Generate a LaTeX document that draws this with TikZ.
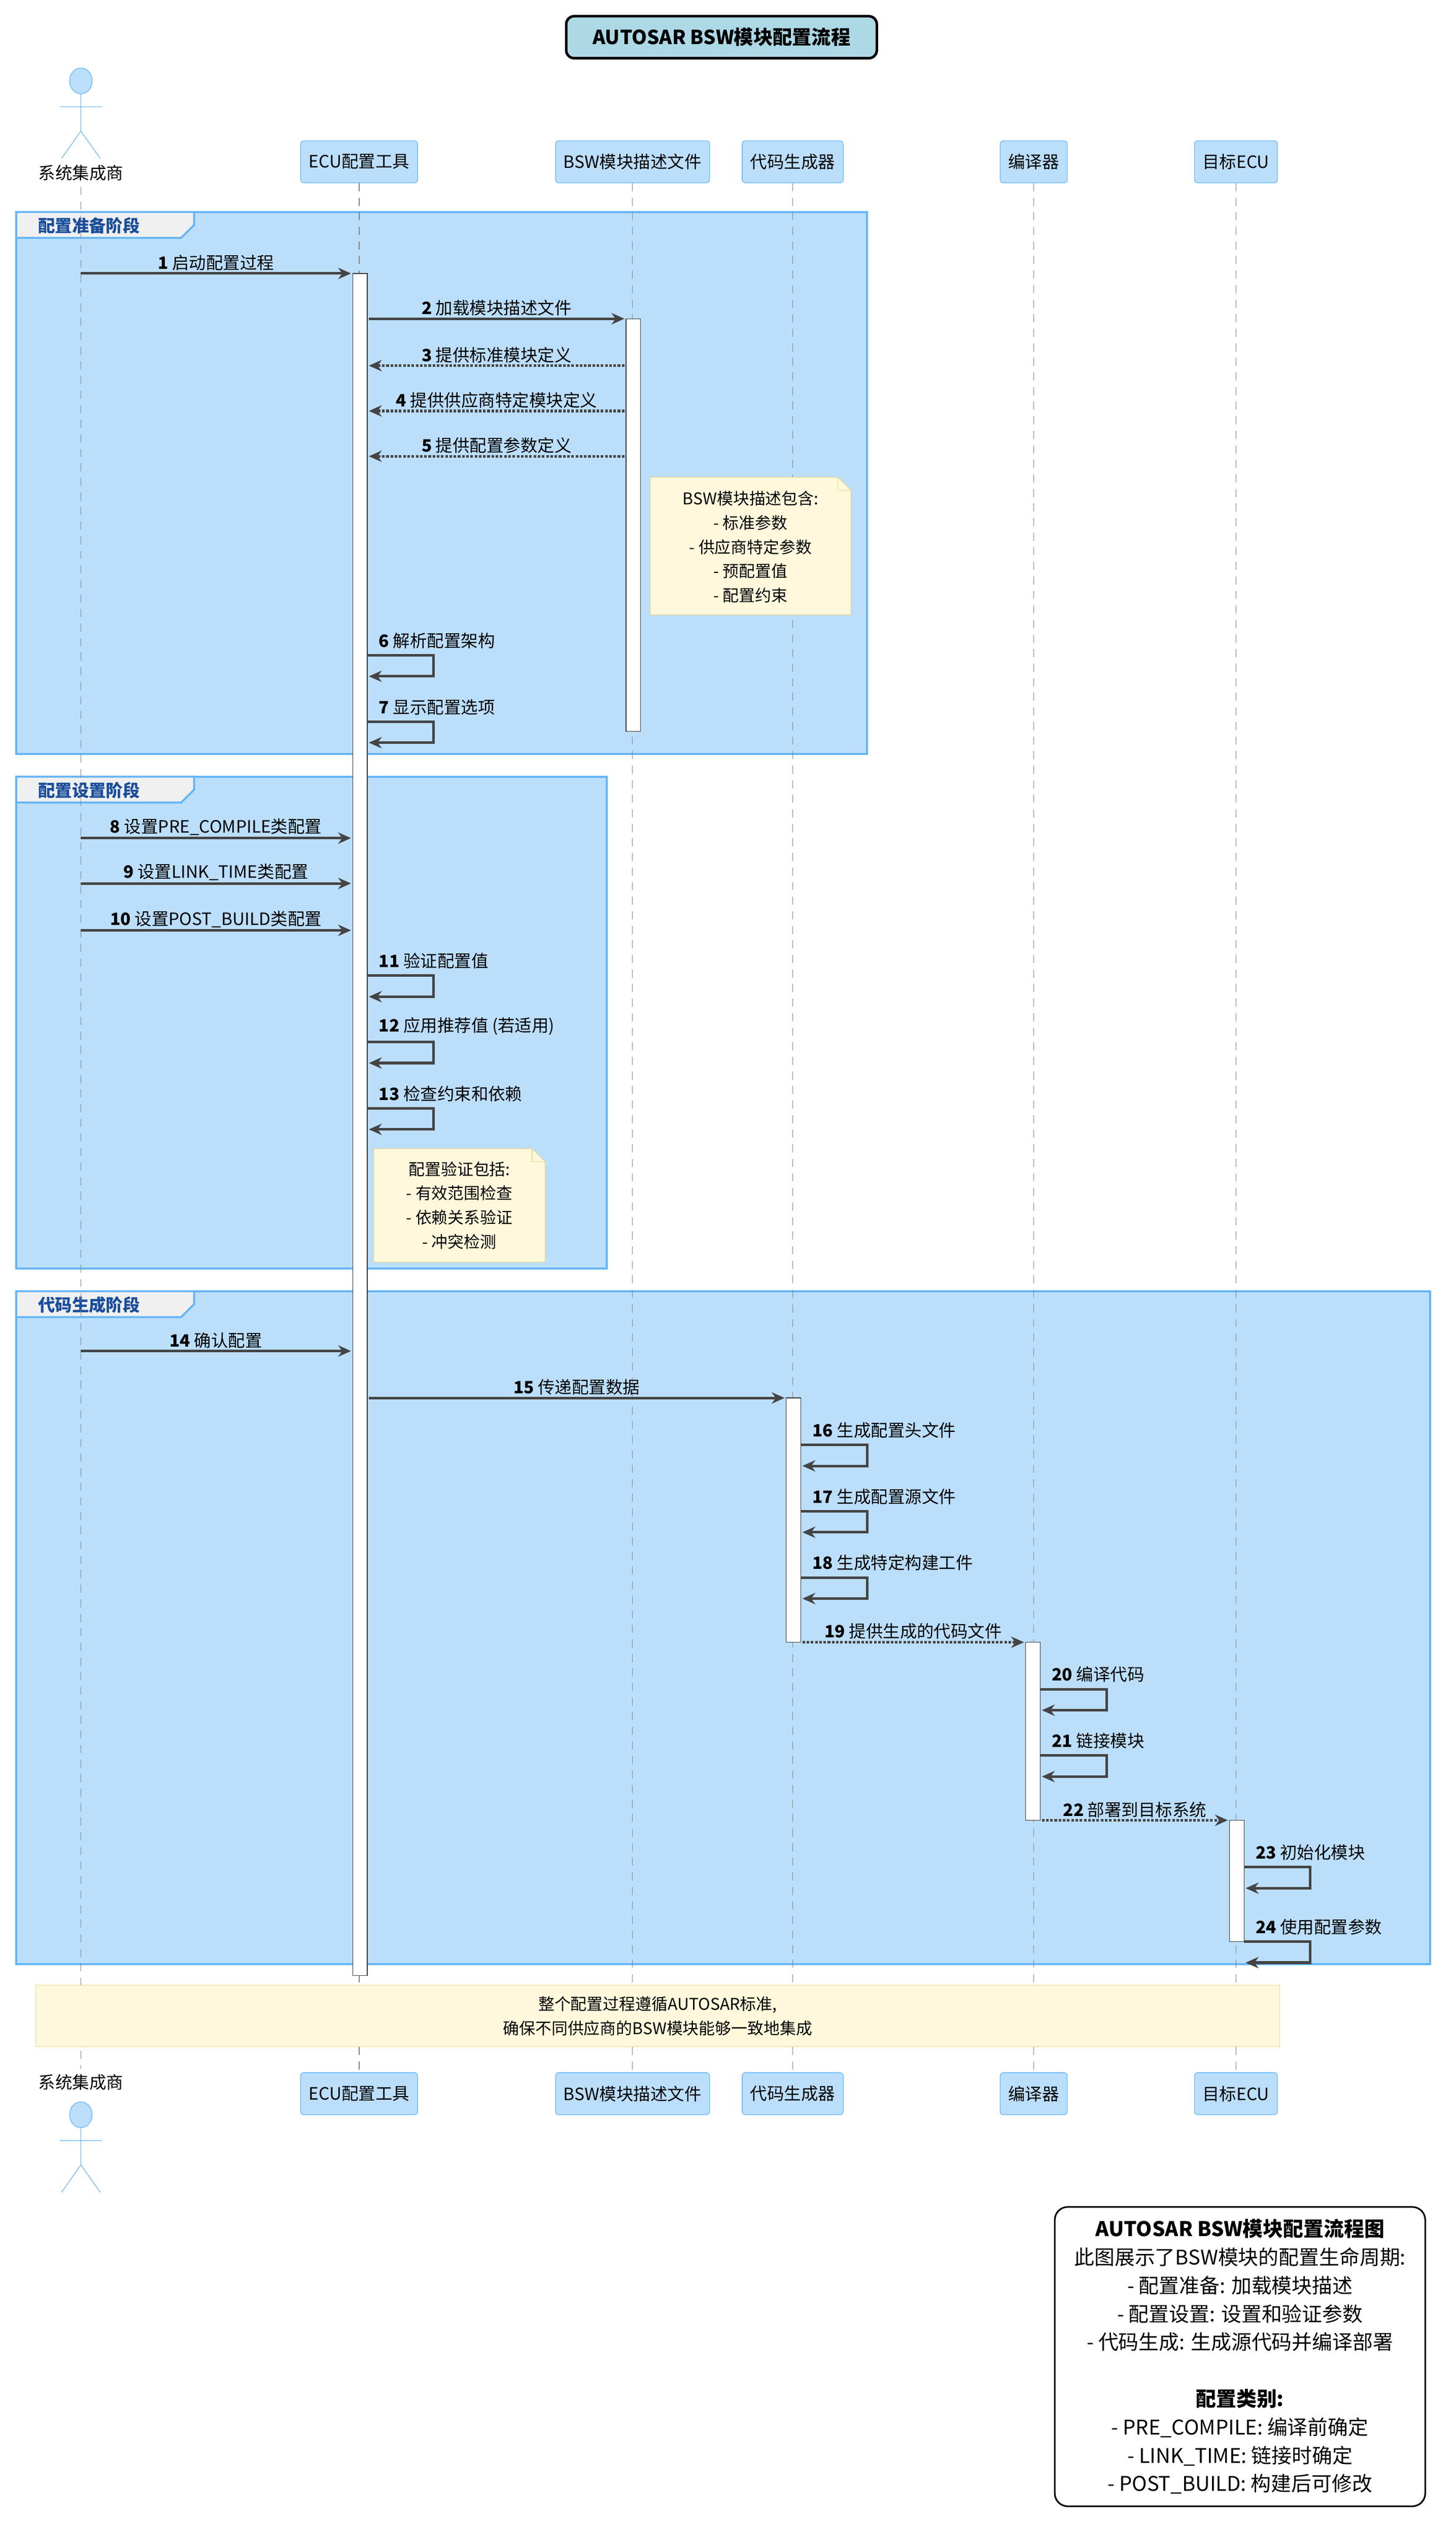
\documentclass[tikz,border=0pt]{standalone}
\usepackage{fontspec}
\setmainfont{Noto Sans CJK SC}
\usetikzlibrary{arrows,arrows.meta,positioning,calc}
\definecolor{grpfill}{HTML}{BBDEFB}
\definecolor{grpline}{HTML}{64B5F6}
\definecolor{tabtext}{HTML}{1A4E9B}
\definecolor{notefill}{HTML}{FFF8DC}
\definecolor{noteline}{HTML}{E8D88A}
\definecolor{arrowc}{HTML}{444444}
\definecolor{titlefill}{HTML}{ADD8E6}

\begin{document}
\begin{tikzpicture}[
    x=1pt, y=-1pt,
    font=\fontsize{10.5}{12}\selectfont,
    headbox/.style={rectangle, rounded corners=2pt, draw=grpline, fill=grpfill, minimum height=26pt, inner xsep=5pt},
    grp/.style={draw=grpline, line width=1.2pt, fill=grpfill},
    grptab/.style={draw=grpline, line width=1.2pt, fill=gray!12},
    tablabel/.style={font=\fontsize{10.5}{12}\selectfont\bfseries, text=tabtext, anchor=west},
    life/.style={gray, dash pattern=on 5pt off 4pt},
    actbar/.style={draw=black!80, fill=white},
    msg/.style={-{Stealth[length=8pt,width=7pt]}, line width=1.6pt, arrowc},
    reply/.style={-{Stealth[length=8pt,width=7pt]}, line width=1.6pt, arrowc, densely dotted},
    lbl/.style={anchor=south, inner sep=1pt, text=black},
    slbl/.style={anchor=south west, inner sep=1pt, text=black},
    notebox/.style={fill=notefill, draw=noteline, align=center, font=\fontsize{10}{15}\selectfont}
]
\useasboundingbox (0,0) rectangle (900,1568);

% Title
\node[draw, line width=1.6pt, rounded corners=5pt, fill=titlefill, minimum width=192pt, minimum height=26pt, font=\fontsize{12}{13}\selectfont\bfseries] (title) at (446,23) {AUTOSAR BSW模块配置流程};

% Groups
\draw[grp] (10,131) rectangle (536,466);
\draw[grptab] (10,131) -- (120,131) -- (120,139) -- (112,147) -- (10,147) -- cycle;
\node[tablabel] (g1) at (20,139.5) {配置准备阶段};
\draw[grp] (10,480) rectangle (375,784);
\draw[grptab] (10,480) -- (120,480) -- (120,488) -- (112,496) -- (10,496) -- cycle;
\node[tablabel] (g2) at (20,488.5) {配置设置阶段};
\draw[grp] (10,798) rectangle (884,1214);
\draw[grptab] (10,798) -- (120,798) -- (120,806) -- (112,814) -- (10,814) -- cycle;
\node[tablabel] (g3) at (20,806.5) {代码生成阶段};

% Participants
\foreach \n/\x/\t in {ecu/222/ECU配置工具, bsw/391/BSW模块描述文件, gen/490/代码生成器, cc/639/编译器, tgt/764/目标ECU} {
    \node[headbox] (\n top) at (\x,100) {\t};
    \node[headbox] (\n bot) at (\x,1294) {\t};
    \draw[life] (\n top.south) -- (\n bot.north);
}

% Actor
\node (sitop) at (50,107) {系统集成商};
\node (sibot) at (50,1287) {系统集成商};
\draw[life] (sitop.south) -- (sibot.north);
\foreach \y in {50, 1307} {
    \draw[grpline, fill=grpfill] (50,\y) circle [x radius=7pt, y radius=8pt];
    \draw[grpline] (50,\y+8) -- (50,\y+31) (37,\y+16) -- (63,\y+16) (38,\y+48) -- (50,\y+31) -- (62,\y+48);
}

% Activations
\draw[actbar] (218,169) rectangle (227,1221);
\draw[actbar] (387,197) rectangle (396,452);
\draw[actbar] (486,864) rectangle (495,1015);
\draw[actbar] (634,1015) rectangle (643,1125);
\draw[actbar] (760,1125) rectangle (769,1200);

% Notes
\draw[notebox] (402,295) -- (518,295) -- (526,303) -- (526,380) -- (402,380) -- cycle;
\draw[noteline] (518,295) -- (518,303) -- (526,303);
\node[align=center, font=\fontsize{10}{15}\selectfont] (note1) at (464,338) {BSW模块描述包含:\\- 标准参数\\- 供应商特定参数\\- 预配置值\\- 配置约束};
\draw[notebox] (231,710) -- (329,710) -- (337,718) -- (337,780) -- (231,780) -- cycle;
\draw[noteline] (329,710) -- (329,718) -- (337,718);
\node[align=center, font=\fontsize{10}{15}\selectfont] (note2) at (284,745) {配置验证包括:\\- 有效范围检查\\- 依赖关系验证\\- 冲突检测};

% Messages between lifelines
\foreach \a/\b/\y/\t/\s in {50/217/169/1/启动配置过程, 228/386/197/2/加载模块描述文件, 50/217/518/8/设置PRE\_COMPILE类配置, 50/217/546/9/设置LINK\_TIME类配置, 50/217/575/10/设置POST\_BUILD类配置, 50/217/835/14/确认配置, 228/485/864/15/传递配置数据} {
    \coordinate (m\t a) at (\a,\y);
    \coordinate (m\t b) at (\b,\y);
    \draw[msg] (m\t a) -- (m\t b) node[lbl, midway] {\textbf{\t} \s};
}
\foreach \a/\b/\y/\t/\s in {386/228/226/3/提供标准模块定义, 386/228/254/4/提供供应商特定模块定义, 386/228/282/5/提供配置参数定义, 496/633/1015/19/提供生成的代码文件, 644/759/1125/22/部署到目标系统} {
    \coordinate (m\t a) at (\a,\y);
    \coordinate (m\t b) at (\b,\y);
    \draw[reply] (m\t a) -- (m\t b) node[lbl, midway] {\textbf{\t} \s};
}

% Self messages
\foreach \x/\y/\t/\s in {227/405/6/解析配置架构, 227/446/7/显示配置选项, 227/603/11/验证配置值, 227/644/12/应用推荐值 (若适用), 227/685/13/检查约束和依赖, 495/893/16/生成配置头文件, 495/934/17/生成配置源文件, 495/975/18/生成特定构建工件, 643/1044/20/编译代码, 643/1085/21/链接模块, 769/1154/23/初始化模块, 769/1200/24/使用配置参数} {
    \coordinate (s\t) at (\x,\y);
    \draw[msg] (s\t) -- ++(41,0) -- ++(0,13) -- ++(-40,0);
    \node[slbl] at ($(s\t)+(6,-3)$) {\textbf{\t} \s};
}

% Bottom note
\node[fill=notefill, draw=noteline, minimum width=769pt, minimum height=38pt, align=center, font=\fontsize{10}{15}\selectfont] (endnote) at (406.5,1246) {整个配置过程遵循AUTOSAR标准,\\确保不同供应商的BSW模块能够一致地集成};

% Legend
\node[draw, line width=1pt, rounded corners=8pt, fill=white, minimum width=229pt, minimum height=185pt, align=center, font=\fontsize{12.5}{17.5}\selectfont] (legend) at (766.5,1456.5) {\textbf{AUTOSAR BSW模块配置流程图}\\此图展示了BSW模块的配置生命周期:\\- 配置准备: 加载模块描述\\- 配置设置: 设置和验证参数\\- 代码生成: 生成源代码并编译部署\\[17.5pt]\textbf{配置类别:}\\- PRE\_COMPILE: 编译前确定\\- LINK\_TIME: 链接时确定\\- POST\_BUILD: 构建后可修改};

\end{tikzpicture}
\end{document}
